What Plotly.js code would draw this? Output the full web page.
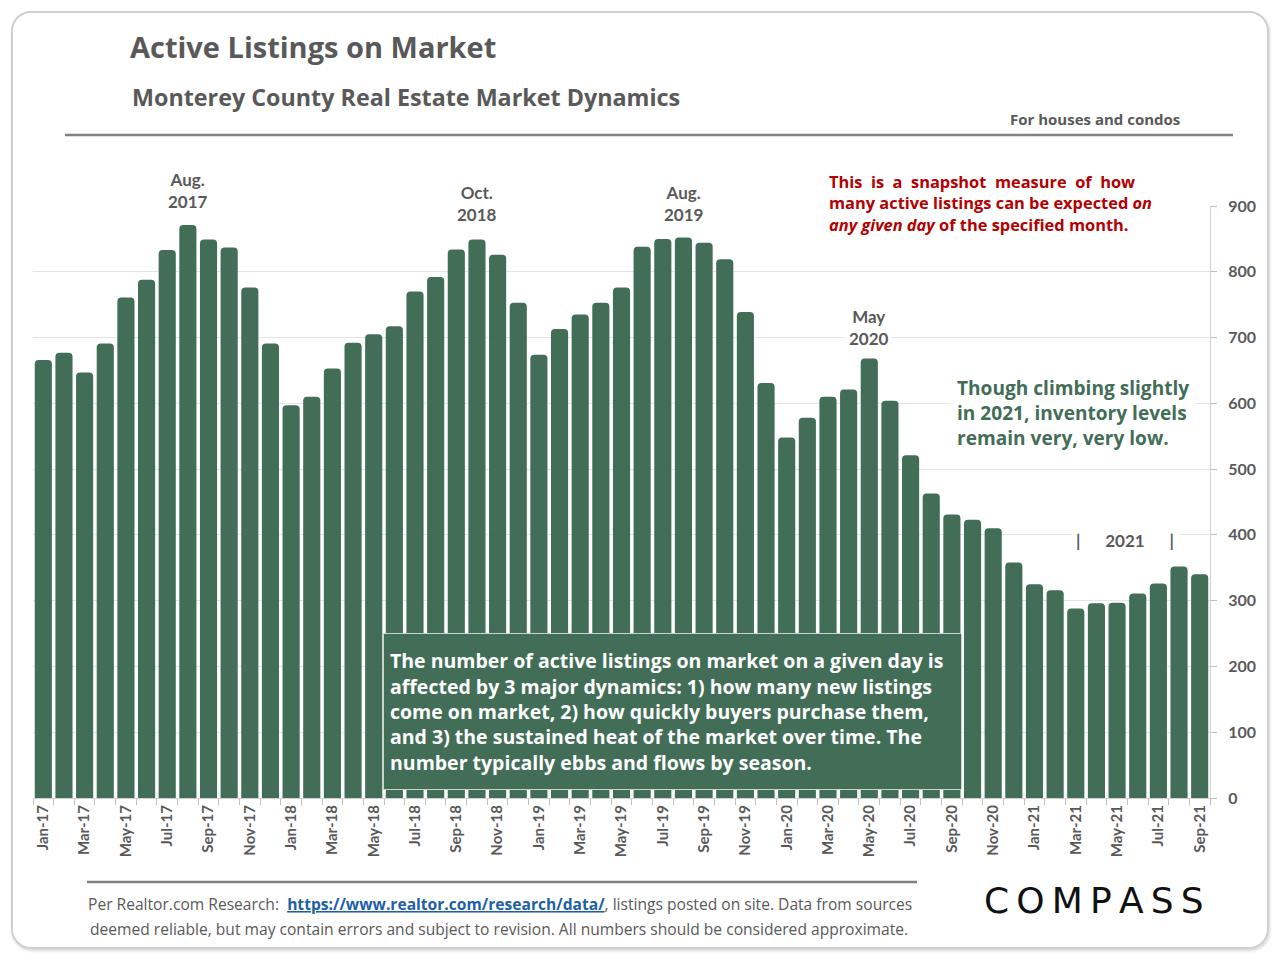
<!DOCTYPE html>
<html>
<head>
<meta charset="utf-8">
<script src="https://cdn.plot.ly/plotly-3.0.1.min.js"></script>
<style>
  body { margin: 0; background: #fff; }
  #wrap { position: relative; width: 1280px; height: 960px; }
  #chart { position: absolute; left: 0; top: 0; width: 1280px; height: 960px; }
  #frame { position: absolute; left: 11px; top: 11px; width: 1254px; height: 934px;
           border: 2px solid #cfcfcf; border-radius: 20px; pointer-events: none;
           box-shadow: 1px 2px 3px rgba(0,0,0,0.15); }
</style>
</head>
<body>
<div id="wrap">
  <div id="chart"></div>
  <div id="frame"></div>
</div>
<script>
// ---- Data ----
const months = [
  'Jan-17','Feb-17','Mar-17','Apr-17','May-17','Jun-17','Jul-17','Aug-17','Sep-17','Oct-17','Nov-17','Dec-17',
  'Jan-18','Feb-18','Mar-18','Apr-18','May-18','Jun-18','Jul-18','Aug-18','Sep-18','Oct-18','Nov-18','Dec-18',
  'Jan-19','Feb-19','Mar-19','Apr-19','May-19','Jun-19','Jul-19','Aug-19','Sep-19','Oct-19','Nov-19','Dec-19',
  'Jan-20','Feb-20','Mar-20','Apr-20','May-20','Jun-20','Jul-20','Aug-20','Sep-20','Oct-20','Nov-20','Dec-20',
  'Jan-21','Feb-21','Mar-21','Apr-21','May-21','Jun-21','Jul-21','Aug-21','Sep-21'
];
const activeListings = [
  666, 677, 647, 691, 761, 788, 833, 871, 849, 837, 776, 691,
  597, 610, 653, 692, 705, 717, 770, 792, 834, 849, 826, 753,
  674, 713, 735, 753, 776, 838, 850, 852, 844, 819, 739, 631,
  548, 578, 610, 621, 668, 604, 521, 463, 431, 423, 410, 358,
  325, 316, 288, 296, 297, 311, 326, 352, 340
];
// Tick labels: every other month shown
const tickLabels = months.map((m, i) => (i % 2 === 0 ? m : ''));
const yTicks = [0, 100, 200, 300, 400, 500, 600, 700, 800, 900];

// ---- Styling ----
const FONT = '"Open Sans", Lato, sans-serif';
const TICKFONT = 'Lato, "Open Sans", sans-serif';
const GRAY = '#595959';
const GREEN = '#426e58';
const RED = '#b30000';

// pixel -> paper helpers (plot area: x 33..1210, y 206..798)
const L = 33, R = 1210, T = 206, B = 798;
const px = x => (x - L) / (R - L);
const py = y => (B - y) / (B - T);

const trace = {
  type: 'bar',
  x: months,
  y: activeListings,
  marker: { color: GREEN, cornerradius: 4, line: { width: 0 } },
  hoverinfo: 'x+y'
};

const layout = {
  width: 1280, height: 960,
  margin: { l: L, r: 1280 - R, t: T, b: 960 - B, pad: 0 },
  paper_bgcolor: '#ffffff', plot_bgcolor: '#ffffff',
  bargap: 0.17,
  showlegend: false,
  font: { family: FONT, color: GRAY },
  title: {
    text: '<b>Active Listings on Market</b>',
    xref: 'container', yref: 'container',
    x: 130 / 1280, xanchor: 'left',
    y: 1 - 48 / 960, yanchor: 'middle',
    font: { family: FONT, size: 29, color: GRAY }
  },
  xaxis: {
    type: 'category',
    tickvals: months, ticktext: tickLabels,
    tickson: 'boundaries',
    ticks: 'outside', ticklen: 6, tickcolor: '#bfbfbf', tickwidth: 1,
    tickangle: -90,
    tickfont: { family: TICKFONT, size: 15, color: GRAY, weight: 'bold' },
    showgrid: false, zeroline: false,
    showline: true, linecolor: '#d0d0d0', linewidth: 1,
    fixedrange: true
  },
  yaxis: {
    side: 'right',
    range: [0, 900],
    tickvals: yTicks,
    ticks: 'outside', ticklen: 6, tickcolor: '#bfbfbf',
    tickfont: { family: TICKFONT, size: 16, color: GRAY, weight: 'bold' },
    ticklabelstandoff: 8,
    showgrid: true, gridcolor: '#e4e4e4', gridwidth: 1,
    zeroline: false,
    showline: true, linecolor: '#d0d0d0', linewidth: 1,
    fixedrange: true
  },
  shapes: [
    { type: 'line', xref: 'paper', yref: 'paper', x0: px(65), x1: px(1233), y0: py(135), y1: py(135),
      line: { color: '#808080', width: 2.5 } },
    { type: 'line', xref: 'paper', yref: 'paper', x0: px(87), x1: px(917), y0: py(882), y1: py(882),
      line: { color: '#808080', width: 2.5 } }
  ],
  annotations: [
    { xref: 'paper', yref: 'paper', x: px(130), y: py(97), xanchor: 'left', yanchor: 'middle',
      text: '<b>Monterey County Real Estate Market Dynamics</b>', showarrow: false,
      font: { family: FONT, size: 23.3, color: GRAY } },
    { xref: 'paper', yref: 'paper', x: px(1182), y: py(119), xanchor: 'right', yanchor: 'middle',
      text: '<b>For houses and condos</b>', showarrow: false,
      font: { family: FONT, size: 15, color: GRAY } },

    // peak labels
    { xref: 'x', yref: 'paper', x: 'Aug-17', y: py(191), yanchor: 'middle', showarrow: false,
      text: '<b>Aug.<br>2017</b>', bgcolor: '#ffffff', borderpad: 3,
      font: { family: TICKFONT, size: 17, color: GRAY } },
    { xref: 'x', yref: 'paper', x: 'Oct-18', y: py(203), yanchor: 'middle', showarrow: false,
      text: '<b>Oct.<br>2018</b>', bgcolor: '#ffffff', borderpad: 3,
      font: { family: TICKFONT, size: 17, color: GRAY } },
    { xref: 'x', yref: 'paper', x: 'Aug-19', y: py(203), yanchor: 'middle', showarrow: false,
      text: '<b>Aug.<br>2019</b>', bgcolor: '#ffffff', borderpad: 3,
      font: { family: TICKFONT, size: 17, color: GRAY } },
    { xref: 'x', yref: 'paper', x: 'May-20', y: py(327), yanchor: 'middle', showarrow: false,
      text: '<b>May<br>2020</b>', bgcolor: '#ffffff', borderpad: 3,
      font: { family: TICKFONT, size: 17, color: GRAY } },
    { xref: 'paper', yref: 'paper', x: px(1125), y: py(540), xanchor: 'center', yanchor: 'middle', showarrow: false,
      text: '<b>|      2021      |</b>', bgcolor: '#ffffff', borderpad: 4,
      font: { family: TICKFONT, size: 17, color: GRAY } },

    // red note
    { xref: 'paper', yref: 'paper', x: px(822), y: py(203), xanchor: 'left', yanchor: 'middle', showarrow: false,
      align: 'left', bgcolor: '#ffffff', borderpad: 6,
      text: '<b>This  is  a  snapshot  measure  of  how<br>many active listings can be expected <i>on</i><br><i>any given day</i> of the specified month.</b>',
      font: { family: FONT, size: 16.4, color: RED } },

    // green note
    { xref: 'paper', yref: 'paper', x: px(950), y: py(413), xanchor: 'left', yanchor: 'middle', showarrow: false,
      align: 'left', bgcolor: '#ffffff', borderpad: 6,
      text: '<b>Though climbing slightly<br>in 2021, inventory levels<br>remain very, very low.</b>',
      font: { family: FONT, size: 19.1, color: GREEN } },

    // dark green box
    { xref: 'paper', yref: 'paper', x: px(672.5), y: py(711.5), xanchor: 'center', yanchor: 'middle', showarrow: false,
      align: 'left', bgcolor: GREEN, bordercolor: '#c9d3ce', borderwidth: 1, borderpad: 6,
      width: 565, height: 143,
      text: '<b>The number of active listings on market on a given day is<br>affected by 3 major dynamics: 1) how many new listings<br>come on market, 2) how quickly buyers purchase them,<br>and 3) the sustained heat of the market over time. The<br>number typically ebbs and flows by season.</b>',
      font: { family: FONT, size: 19.5, color: '#ffffff' } },

    // footer
    { xref: 'paper', yref: 'paper', x: px(500), y: py(904), xanchor: 'center', yanchor: 'middle', showarrow: false,
      text: 'Per Realtor.com Research:  <b><span style="color:#1f5fa8;text-decoration:underline">https://www.realtor.com/research/data/</span></b>, listings posted on site. Data from sources',
      font: { family: FONT, size: 15.6, color: GRAY } },
    { xref: 'paper', yref: 'paper', x: px(499), y: py(929), xanchor: 'center', yanchor: 'middle', showarrow: false,
      text: 'deemed reliable, but may contain errors and subject to revision. All numbers should be considered approximate.',
      font: { family: FONT, size: 15.6, color: GRAY } },

    // logo
    { xref: 'paper', yref: 'paper', x: px(1094), y: py(900), xanchor: 'center', yanchor: 'middle', showarrow: false,
      text: 'C\u2009O\u2009M\u2009P\u2009A\u2009S\u2009S',
      font: { family: '"DejaVu Sans", sans-serif', size: 36, color: '#111111' } }
  ]
};

Plotly.newPlot('chart', [trace], layout, { displayModeBar: false, staticPlot: true });
</script>
</body>
</html>
